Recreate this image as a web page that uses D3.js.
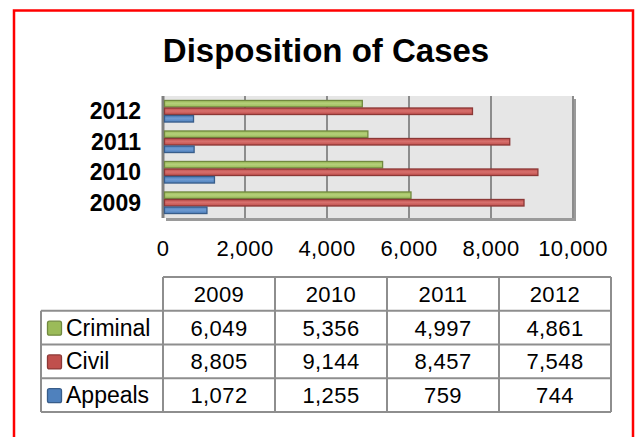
<!DOCTYPE html>
<html lang="en">
<head>
	<meta charset="UTF-8">
	<title>Disposition of Cases</title>
	<script src="https://cdn.jsdelivr.net/npm/d3@7"></script>
</head>
<body>
	<div id="chart"></div>
</body>

<style>
	body {
		margin: 0;
		background-color: #ffffff;
	}
	#chart text {
		font-family: "Liberation Sans", Arial, sans-serif;
		fill: #000;
	}
</style>

<script>
	// values
	const years = ['2009', '2010', '2011', '2012']
	const criminal = [6049, 5356, 4997, 4861]
	const civil = [8805, 9144, 8457, 7548]
	const appeals = [1072, 1255, 759, 744]
	const ticks = [0, 2000, 4000, 6000, 8000, 10000]
	const seriesNames = ['Criminal', 'Civil', 'Appeals']

	const series = [
		{name: seriesNames[0], values: criminal, fill: '#9bbb59', edge: '#71893f', light: '#b5d07a'},
		{name: seriesNames[1], values: civil, fill: '#c0504d', edge: '#8c3836', light: '#d7706d'},
		{name: seriesNames[2], values: appeals, fill: '#4f81bd', edge: '#385d8a', light: '#6f9bd2'}
	]

	const W = 638, H = 437
	const plot = {left: 163, right: 573, top: 96, bottom: 218}
	const fmt = d3.format(',')

	const svg = d3.select('#chart').append('svg').attr('width', W).attr('height', H)

	// gradients for the bars
	const defs = svg.append('defs')
	for (const s of series) {
		const g = defs.append('linearGradient').attr('id', 'g-' + s.name).attr('x1', 0).attr('y1', 0).attr('x2', 0).attr('y2', 1)
		g.append('stop').attr('offset', '0%').attr('stop-color', s.fill)
		g.append('stop').attr('offset', '45%').attr('stop-color', s.light)
		g.append('stop').attr('offset', '100%').attr('stop-color', s.fill)
	}

	// red outer frame
	svg.append('rect')
		.attr('x', 14).attr('y', 10.5).attr('width', 619).attr('height', 460)
		.attr('fill', 'none').attr('stroke', '#ff0000').attr('stroke-width', 2.5)

	svg.append('text')
		.attr('x', 326).attr('y', 62)
		.attr('text-anchor', 'middle')
		.style('font-size', '33px').style('font-weight', 'bold')
		.text('Disposition of Cases')

	const x = d3.scaleLinear().domain([0, 10000]).range([plot.left, plot.right])
	const y = d3.scaleBand().domain(years.slice().reverse()).range([plot.top, plot.bottom])
		.paddingInner(0.26).paddingOuter(0.13)
	const ySub = d3.scaleBand().domain(seriesNames).range([0, y.bandwidth()])

	// plot background + shadow
	svg.append('rect')
		.attr('x', plot.left + 3).attr('y', plot.top + 3)
		.attr('width', plot.right - plot.left).attr('height', plot.bottom - plot.top)
		.attr('fill', '#9a9a9a')
	svg.append('rect')
		.attr('x', plot.left).attr('y', plot.top)
		.attr('width', plot.right - plot.left).attr('height', plot.bottom - plot.top)
		.attr('fill', '#e6e6e6')

	// grid lines
	svg.append('g').selectAll('line').data(ticks).join('line')
		.attr('x1', d => x(d)).attr('x2', d => x(d))
		.attr('y1', plot.top).attr('y2', plot.bottom)
		.attr('stroke', d => d == 0 ? '#808080' : '#8c8c8c')
		.attr('stroke-width', d => d == 0 ? 3 : 2)

	// bars
	const groups = svg.append('g').selectAll('g').data(years).join('g')
		.attr('transform', d => `translate(0,${y(d)})`)
	groups.selectAll('rect')
		.data((yr, i) => series.map(s => ({s: s, v: s.values[i]})))
		.join('rect')
		.attr('x', x(0) + 1.5)
		.attr('y', d => ySub(d.s.name) + 0.5)
		.attr('width', d => x(d.v) - x(0) - 1.5)
		.attr('height', ySub.bandwidth() - 1)
		.attr('fill', d => `url(#g-${d.s.name})`)
		.attr('stroke', d => d.s.edge)
		.attr('stroke-width', 1.3)

	// year labels
	svg.append('g').selectAll('text').data(years).join('text')
		.attr('x', 141)
		.attr('y', d => y(d) + y.bandwidth() / 2 + 8)
		.attr('text-anchor', 'end')
		.style('font-size', '23px').style('font-weight', 'bold')
		.text(d => d)

	// value axis labels
	svg.append('g').selectAll('text').data(ticks).join('text')
		.attr('x', d => x(d)).attr('y', 256)
		.attr('text-anchor', 'middle')
		.style('font-size', '22px')
		.style('letter-spacing', '0.4px')
		.text(d => fmt(d))

	// data table
	const cols = d3.scaleBand().domain(years).range([163, 611])
	const rows = d3.scaleBand().domain(['head'].concat(seriesNames)).range([277, 412])
	const tableColor = '#8e8e8e'
	const table = svg.append('g')

	// horizontal lines
	table.append('line').attr('x1', 163).attr('x2', 611).attr('y1', rows('head')).attr('y2', rows('head'))
		.attr('stroke', tableColor).attr('stroke-width', 2)
	table.selectAll('.hline').data(seriesNames.concat(['end'])).join('line')
		.attr('class', 'hline')
		.attr('x1', 41).attr('x2', 611)
		.attr('y1', (d, i) => i < 3 ? rows(d) : rows('Appeals') + rows.bandwidth())
		.attr('y2', (d, i) => i < 3 ? rows(d) : rows('Appeals') + rows.bandwidth())
		.attr('stroke', tableColor).attr('stroke-width', 2)
	// vertical lines
	table.append('line').attr('x1', 41).attr('x2', 41).attr('y1', rows('Criminal')).attr('y2', 412)
		.attr('stroke', tableColor).attr('stroke-width', 2)
	table.selectAll('.vline').data(years.concat(['end'])).join('line')
		.attr('class', 'vline')
		.attr('x1', (d, i) => i < 4 ? cols(d) : 611)
		.attr('x2', (d, i) => i < 4 ? cols(d) : 611)
		.attr('y1', rows('head')).attr('y2', 412)
		.attr('stroke', tableColor).attr('stroke-width', 2)

	// header text
	table.selectAll('.head').data(years).join('text')
		.attr('class', 'head')
		.attr('x', d => cols(d) + cols.bandwidth() / 2)
		.attr('y', rows('head') + rows.bandwidth() - 9)
		.attr('text-anchor', 'middle')
		.style('font-size', '22px').style('letter-spacing', '0.4px')
		.text(d => d)

	// legend keys + cell values
	for (const s of series) {
		const ry = rows(s.name)
		table.append('rect')
			.attr('x', 47.5).attr('y', ry + rows.bandwidth() / 2 - 6.5)
			.attr('width', 14).attr('height', 14).attr('rx', 2)
			.attr('fill', s.fill).attr('stroke', s.edge).attr('stroke-width', 1.3)
		table.append('text')
			.attr('x', 66).attr('y', ry + rows.bandwidth() / 2 + 8)
			.style('font-size', '23px')
			.text(s.name)
		table.selectAll(null).data(s.values).join('text')
			.attr('x', (d, i) => cols(years[i]) + cols.bandwidth() / 2)
			.attr('y', ry + rows.bandwidth() / 2 + 8)
			.attr('text-anchor', 'middle')
			.style('font-size', '22px').style('letter-spacing', '0.4px')
			.text(d => fmt(d))
	}
</script>

</html>
